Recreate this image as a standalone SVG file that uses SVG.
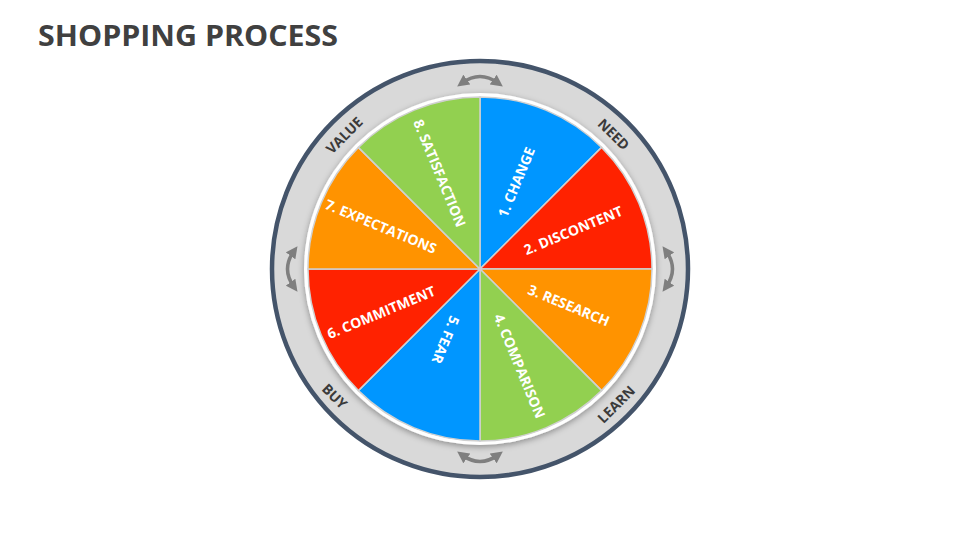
<svg xmlns="http://www.w3.org/2000/svg" width="960" height="540" viewBox="0 0 960 540">
<defs>
<style>
.s{stroke:#d0d0d0;stroke-width:1.5}
.t{font-family:"Open Sans","Liberation Sans",sans-serif;font-weight:bold;font-size:14px;fill:#fff;text-anchor:middle;dominant-baseline:central}
.r{font-family:"Open Sans","Liberation Sans",sans-serif;font-weight:bold;font-size:14px;fill:#3a3a3a;text-anchor:middle;dominant-baseline:central}
.a{fill:none;stroke:#7f7f7f;stroke-width:3.5}
</style>
<marker id="ah" viewBox="0 0 10 10" refX="5" refY="5" markerWidth="3.4" markerHeight="3.4" orient="auto-start-reverse" markerUnits="strokeWidth"><path d="M0,0L10,5L0,10z" fill="#7f7f7f"/></marker>
<filter id="sh" x="-10%" y="-10%" width="120%" height="120%"><feDropShadow dx="0" dy="2" stdDeviation="3" flood-color="#000" flood-opacity="0.35"/></filter>
</defs>
<rect width="960" height="540" fill="#fff"/>
<text x="38" y="46" font-family="'Open Sans','Liberation Sans',sans-serif" font-weight="bold" font-size="28" fill="#404040" textLength="300" lengthAdjust="spacingAndGlyphs">SHOPPING PROCESS</text>
<g id="ring">
<circle cx="480" cy="269" r="208" fill="#d9d9d9" stroke="#44546a" stroke-width="4.5"/>
<circle cx="480" cy="269" r="176" fill="#fff" filter="url(#sh)"/>
</g>
<g id="n1"><path class="s" d="M480,269L480,97A172,172 0 0 1 601.6,147.4Z" fill="#0096ff"/><text class="t" transform="translate(516,182) rotate(-67.5)">1. CHANGE</text></g>
<g id="n2"><path class="s" d="M480,269L601.6,147.4A172,172 0 0 1 652,269Z" fill="#ff2200"/><text class="t" transform="translate(573,230) rotate(-22.5)">2. DISCONTENT</text></g>
<g id="n3"><path class="s" d="M480,269L652,269A172,172 0 0 1 601.6,390.6Z" fill="#ff9300"/><text class="t" transform="translate(569,305) rotate(22.5)">3. RESEARCH</text></g>
<g id="n4"><path class="s" d="M480,269L601.6,390.6A172,172 0 0 1 480,441Z" fill="#92d050"/><text class="t" transform="translate(520,366) rotate(67.5)">4. COMPARISON</text></g>
<g id="n5"><path class="s" d="M480,269L480,441A172,172 0 0 1 358.4,390.6Z" fill="#0096ff"/><text class="t" transform="translate(446,340) rotate(112.5)">5. FEAR</text></g>
<g id="n6"><path class="s" d="M480,269L358.4,390.6A172,172 0 0 1 308,269Z" fill="#ff2200"/><text class="t" transform="translate(381,312) rotate(-22.5)">6. COMMITMENT</text></g>
<g id="n7"><path class="s" d="M480,269L308,269A172,172 0 0 1 358.4,147.4Z" fill="#ff9300"/><text class="t" transform="translate(381,226) rotate(22.5)">7. EXPECTATIONS</text></g>
<g id="n8"><path class="s" d="M480,269L358.4,147.4A172,172 0 0 1 480,97Z" fill="#92d050"/><text class="t" transform="translate(440,173) rotate(67.5)">8. SATISFACTION</text></g>
<g id="labels">
<text class="r" transform="translate(614,134) rotate(45)">NEED</text>
<text class="r" transform="translate(616,404) rotate(-45)">LEARN</text>
<text class="r" transform="translate(335,396) rotate(45)">BUY</text>
<text class="r" transform="translate(344,135) rotate(-45)">VALUE</text>
</g>
<g id="connectors">
<path class="a" marker-start="url(#ah)" marker-end="url(#ah)" d="M462,83Q480,70 498,83"/>
<path class="a" marker-start="url(#ah)" marker-end="url(#ah)" d="M666,251Q679,269 666,287"/>
<path class="a" marker-start="url(#ah)" marker-end="url(#ah)" d="M498,455Q480,468 462,455"/>
<path class="a" marker-start="url(#ah)" marker-end="url(#ah)" d="M294,287Q281,269 294,251"/>
</g>
</svg>
